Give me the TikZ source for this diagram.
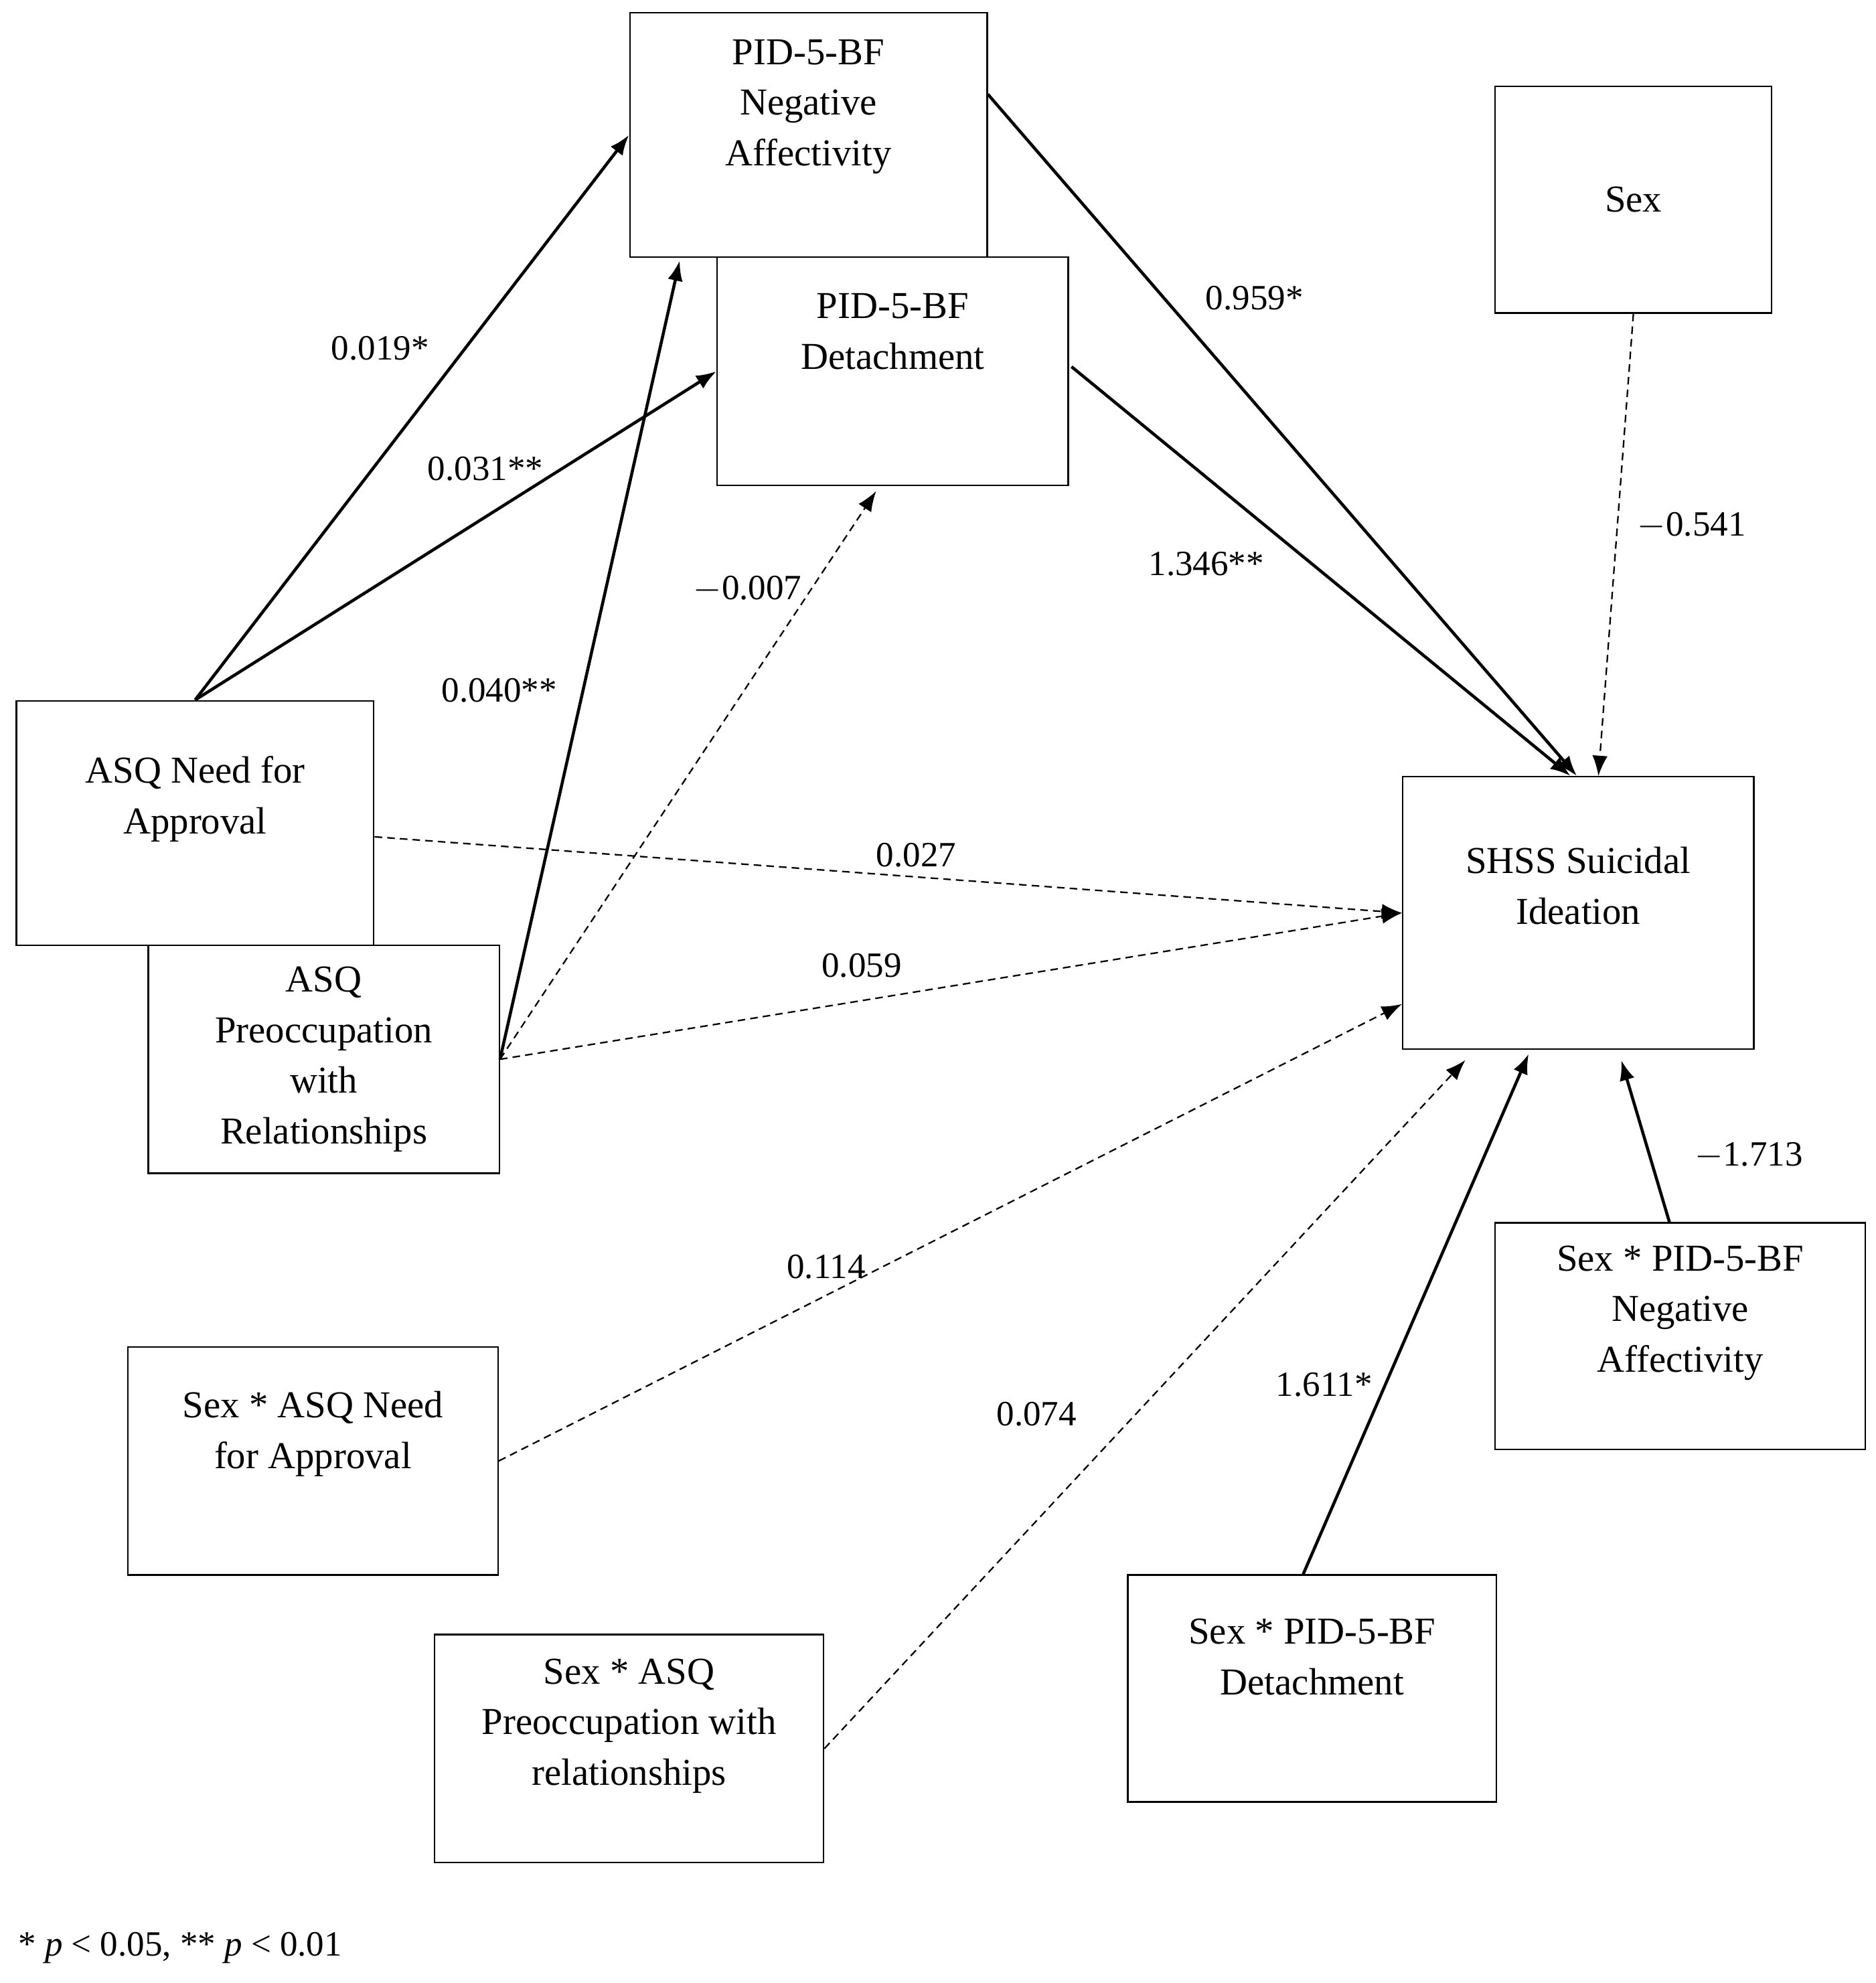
\documentclass[tikz,border=0pt]{standalone}
\usepackage{fontspec}
\setmainfont{Liberation Serif}
\usetikzlibrary{arrows.meta,calc}

\begin{document}
\begin{tikzpicture}[x=0.5pt,y=-0.5pt,
  box/.style={draw,line width=0.6pt,align=center,inner sep=2pt,font=\fontsize{15}{20}\selectfont},
  lbl/.style={font=\fontsize{14}{16}\selectfont,inner sep=1pt},
  sig/.style={line width=1.2pt,-{Latex[length=8pt,width=6pt]}},
  ns/.style={line width=0.6pt,dashed,dash pattern=on 3pt off 2pt,-{Latex[length=8pt,width=6pt]}}]
\useasboundingbox (0,0) rectangle (1480,1565);

%Boxes
\node[box,minimum width=141pt,minimum height=96.5pt] (na) at (638,106.5) {PID-5-BF\\Negative\\Affectivity\\[5.5pt]};
\node[box,minimum width=138.5pt,minimum height=90pt] (det) at (704.5,293) {PID-5-BF\\Detachment\\[11.5pt]};
\node[box,minimum width=109pt,minimum height=89.5pt] (sex) at (1289,157.5) {Sex};
\node[box,minimum width=141pt,minimum height=96.5pt] (nfa) at (154,649.5) {ASQ Need for\\Approval\\[2pt]};
\node[box,minimum width=138.5pt,minimum height=90pt] (pwr) at (255.5,836) {ASQ\\Preoccupation\\with\\Relationships};
\node[box,minimum width=138.5pt,minimum height=107.5pt] (shss) at (1245.5,720.5) {SHSS Suicidal\\Ideation\\[1.5pt]};
\node[box,minimum width=146pt,minimum height=89.5pt] (sxna) at (1326,1054.5) {Sex * PID-5-BF\\Negative\\Affectivity\\[1.5pt]};
\node[box,minimum width=146pt,minimum height=90pt] (sxnfa) at (247,1153) {Sex * ASQ Need\\for Approval\\[4.5pt]};
\node[box,minimum width=153.5pt,minimum height=90pt] (sxpwr) at (496.5,1380) {Sex * ASQ\\Preoccupation with\\relationships\\[1pt]};
\node[box,minimum width=145.5pt,minimum height=89.5pt] (sxdet) at (1035.5,1332.5) {Sex * PID-5-BF\\Detachment\\[5pt]};

%Paths
\draw[sig] (nfa.north) -- (na.west);
\draw[sig] (nfa.north) -- (det.west);
\draw[sig] (pwr.east) -- ($(na.south west)+(40,2)$);
\draw[ns] (pwr.east) -- ($(det.south west)+(126,4)$);
\draw[sig] ($(na.north east)+(0,65)$) -- ($(shss.north west)+(138,0)$);
\draw[sig] ($(det.north east)+(2,87)$) -- ($(shss.north west)+(133,0)$);
\draw[ns] (sex.south) -- ($(shss.north west)+(155,0)$);
\draw[ns] ($(nfa.north east)+(0,108)$) -- (shss.west);
\draw[ns] (pwr.east) -- (shss.west);
\draw[ns] (sxnfa.east) -- ($(shss.north west)+(0,180)$);
\draw[ns] (sxpwr.east) -- ($(shss.south west)+(50,8)$);
\draw[sig] ($(sxdet.north west)+(139,0)$) -- ($(shss.south west)+(100,3)$);
\draw[sig] ($(sxna.north west)+(138,0)$) -- ($(shss.south west)+(173,8)$);

%Labels
\node[lbl] (l1) at (300,275) {0.019*};
\node[lbl] (l2) at (383,370) {0.031**};
\node[lbl] (l3) at (394,545) {0.040**};
\node[lbl] (l4) at (590,465) {$-$0.007};
\node[lbl] (l5) at (990,235) {0.959*};
\node[lbl] (l6) at (952,445) {1.346**};
\node[lbl] (l7) at (1335,415) {$-$0.541};
\node[lbl] (l8) at (723,675) {0.027};
\node[lbl] (l9) at (680,762) {0.059};
\node[lbl] (l10) at (652,1000) {0.114};
\node[lbl] (l11) at (818,1116) {0.074};
\node[lbl] (l12) at (1045,1093) {1.611*};
\node[lbl] (l13) at (1380,912) {$-$1.713};
\node[lbl,anchor=west] (note) at (12,1537) {* \textit{p} < 0.05, ** \textit{p} < 0.01};
\end{tikzpicture}
\end{document}
